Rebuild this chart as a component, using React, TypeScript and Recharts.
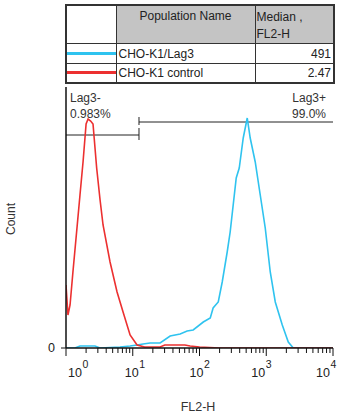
import React from 'react';
import { LineChart, Line, XAxis, YAxis, ReferenceLine } from 'recharts';

// FL2-H histogram, CHO-K1/Lag3 vs CHO-K1 control
const blueFL2 = [1, 1.36, 1.62, 2.72, 3.24, 6.46, 9.12, 11.6, 14.3, 18.2, 25.7, 36.3, 51.3, 65.3, 80.4, 114, 145, 160, 191, 219, 260, 288, 355, 394, 452, 519, 575, 684, 813, 966, 1148, 1365, 1738, 2138, 2541, 10000];
const blueCount = [0, 0, 2, 2, 0, 1, 2, 3, 4, 5, 5, 12, 14, 17, 18, 26, 30, 40, 46, 66, 96, 116, 170, 180, 210, 230, 210, 186, 153, 120, 76, 46, 23, 6, 0, 0];

const redFL2 = [1, 1.07, 1.15, 1.27, 1.46, 1.62, 1.8, 2.0, 2.14, 2.34, 2.54, 2.88, 3.24, 3.59, 4.57, 5.82, 7.16, 9.12, 11.6, 15.1, 25.7, 30.2, 60.3, 72.4, 100, 200, 10000];
const redCount = [63, 33, 43, 76, 120, 153, 186, 224, 229, 227, 224, 180, 148, 123, 86, 56, 36, 13, 3, 1, 1, 3, 3, 2, 1, 0, 0];

const populations = ['CHO-K1/Lag3', 'CHO-K1 control'];
const medians = ['491', '2.47'];
const popColors = ['#2fc3ef', '#ec3030'];

const gateNames = ['Lag3-', 'Lag3+'];
const gatePct = ['0.983%', '99.0%'];
const gateLow = [1, 12.4];
const gateHigh = [12.4, 10000];
const gateLevel = [213, 226];

const decades = [1, 10, 100, 1000, 10000];
const xTicks = [
  1, 2, 3, 4, 5, 6, 7, 8, 9,
  10, 20, 30, 40, 50, 60, 70, 80, 90,
  100, 200, 300, 400, 500, 600, 700, 800, 900,
  1000, 2000, 3000, 4000, 5000, 6000, 7000, 8000, 9000,
  10000,
];
const exponents = ['0', '1', '2', '3', '4'];
const labelShift = [16, 6, 4, -1, -3];

const font = '"Liberation Sans", Arial, sans-serif';
const ink = '#111';

function toRows(xs: number[], ys: number[]) {
  return xs.map((x, i) => ({ x, count: ys[i] }));
}

function FlTick(props: any) {
  const { x, y, payload } = props;
  const k = decades.indexOf(payload.value);
  const major = k >= 0;
  return (
    <g>
      <line x1={x} x2={x} y1={y} y2={y + (major ? 8 : 5)} stroke={ink} strokeWidth={1} />
      {major && (
        <>
          <text x={x + labelShift[k]} y={y + 29} textAnchor="end" fontSize={12.5} fill="#222" fontFamily={font}>10</text>
          <text x={x + labelShift[k] + 0.5} y={y + 20} textAnchor="start" fontSize={10.5} fill="#222" fontFamily={font}>{exponents[k]}</text>
        </>
      )}
    </g>
  );
}

const cell: React.CSSProperties = { border: '1px solid #333', padding: 0, fontSize: 12, color: '#222' };

export default function App() {
  const blue = toRows(blueFL2, blueCount);
  const red = toRows(redFL2, redCount);

  return (
    <div style={{ position: 'absolute', left: 0, top: 0, width: 353, height: 420, background: '#fff', fontFamily: font }}>
      <table
        style={{
          position: 'absolute', left: 65, top: 4, width: 268, height: 76,
          borderCollapse: 'collapse', border: '2px solid #333', tableLayout: 'fixed',
        }}
      >
        <colgroup>
          <col style={{ width: 50 }} />
          <col style={{ width: 139 }} />
          <col style={{ width: 79 }} />
        </colgroup>
        <tbody>
          <tr style={{ height: 37 }}>
            <td style={cell}></td>
            <td style={{ ...cell, background: '#c4c4c4', textAlign: 'center', verticalAlign: 'top', paddingTop: 3 }}>Population Name</td>
            <td style={{ ...cell, background: '#c4c4c4', verticalAlign: 'top', paddingTop: 3, paddingLeft: 1, lineHeight: '17px' }}>
              Median ,<br />FL2-H
            </td>
          </tr>
          {populations.map((p, i) => (
            <tr key={p} style={{ height: i === 0 ? 20 : 19 }}>
              <td style={cell}>
                <div style={{ height: 3, background: popColors[i] }} />
              </td>
              <td style={{ ...cell, paddingLeft: 2 }}>{p}</td>
              <td style={{ ...cell, textAlign: 'right', paddingRight: 2 }}>{medians[i]}</td>
            </tr>
          ))}
        </tbody>
      </table>

      <div style={{ position: 'absolute', left: 0, top: 0 }}>
        <LineChart width={353} height={420} margin={{ top: 87, right: 20, bottom: 0, left: 6 }}>
          <XAxis
            dataKey="x"
            type="number"
            scale="log"
            domain={[1, 10000]}
            allowDataOverflow
            ticks={xTicks}
            interval={0}
            tick={<FlTick />}
            tickLine={false}
            tickSize={0}
            tickMargin={0}
            height={72}
            axisLine={{ stroke: ink, strokeWidth: 1.5 }}
          />
          <XAxis xAxisId="top" orientation="top" type="number" domain={[0, 1]} height={0} tick={false} tickLine={false} axisLine={{ stroke: ink, strokeWidth: 1.5 }} />
          <YAxis
            type="number"
            domain={[0, 261]}
            allowDataOverflow
            ticks={[0]}
            width={60}
            tickSize={5}
            tickMargin={6}
            tick={{ fontSize: 12.5, fill: '#222', fontFamily: font }}
            tickLine={{ stroke: ink }}
            axisLine={{ stroke: ink, strokeWidth: 1.5 }}
          />
          <YAxis yAxisId="right" orientation="right" type="number" domain={[0, 1]} width={0} tick={false} tickLine={false} axisLine={{ stroke: ink, strokeWidth: 1.5 }} />

          {gateNames.map((g, i) => (
            <ReferenceLine
              key={g}
              segment={[{ x: gateLow[i], y: gateLevel[i] }, { x: gateHigh[i], y: gateLevel[i] }]}
              stroke="#222"
              strokeWidth={1}
            />
          ))}
          <ReferenceLine segment={[{ x: gateHigh[0], y: gateLevel[0] - 5 }, { x: gateHigh[0], y: gateLevel[0] + 7 }]} stroke="#222" strokeWidth={1} />
          <ReferenceLine segment={[{ x: gateLow[1], y: gateLevel[1] - 3 }, { x: gateLow[1], y: gateLevel[1] + 5 }]} stroke="#222" strokeWidth={1} />

          <Line data={blue} dataKey="count" type="linear" stroke={popColors[0]} strokeWidth={1.6} dot={false} isAnimationActive={false} />
          <Line data={red} dataKey="count" type="linear" stroke={popColors[1]} strokeWidth={1.6} dot={false} isAnimationActive={false} />
        </LineChart>
      </div>

      <div style={{ position: 'absolute', left: 70, top: 90, fontSize: 12, color: '#333', lineHeight: '16px' }}>
        {gateNames[0]}<br />{gatePct[0]}
      </div>
      <div style={{ position: 'absolute', right: 27, top: 90, fontSize: 12, color: '#333', lineHeight: '16px', textAlign: 'right' }}>
        {gateNames[1]}<br />{gatePct[1]}
      </div>

      <div style={{ position: 'absolute', left: 11, top: 219, transform: 'translate(-50%, -50%) rotate(-90deg)', fontSize: 12, color: '#333' }}>
        Count
      </div>
      <div style={{ position: 'absolute', left: 198, top: 407, transform: 'translate(-50%, -50%)', fontSize: 12.5, color: '#333' }}>
        FL2-H
      </div>
    </div>
  );
}
